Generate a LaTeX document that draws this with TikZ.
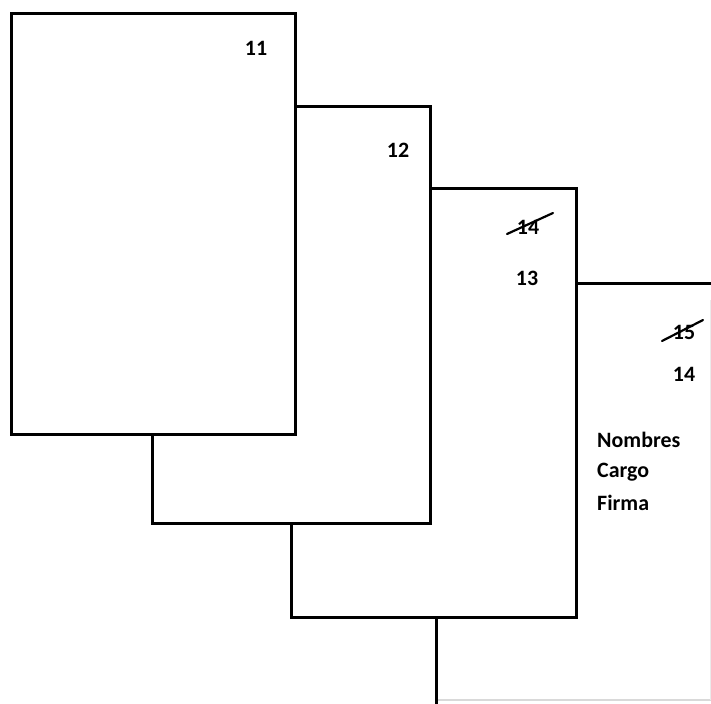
\documentclass[tikz,border=0pt]{standalone}
\usepackage{fontspec}
\setmainfont{Carlito}
\begin{document}
\begin{tikzpicture}[x=1bp,y=-1bp,
  page/.style={draw=black, line width=3bp, fill=white, line join=miter},
  edge/.style={draw=black, line width=3bp},
  faint/.style={draw=black!15, line width=1.2bp},
  lbl/.style={font=\bfseries\fontsize{22}{26}\selectfont, inner sep=0pt},
  strike/.style={draw=black, line width=2.2bp, line cap=round}]
\useasboundingbox (0,0) rectangle (711,704);
\fill[white] (0,0) rectangle (711,704);
% page 4 (back)
\fill[white] (436,283) rectangle (711,700);
\draw[faint] (438,700) -- (711,700);
\draw[draw=black!8, line width=1bp] (710,300) -- (710,700);
\draw[edge] (711,283) -- (436,283) -- (436,704);
% page 3
\draw[page] (291,188) rectangle (576,617);
% page 2
\draw[page] (152,107) rectangle (430,523);
% page 1 (front)
\draw[page] (11,14) rectangle (295,434);
% labels
\node[lbl] (p1) at (256,48) {11};
\node[lbl] (p2) at (398,150) {12};
\node[lbl] (p3old) at (528,227) {14};
\coordinate (s3a) at (507,234);
\coordinate (s3b) at (553,213);
\draw[strike] (s3a) -- (s3b);
\node[lbl] (p3) at (527,278) {13};
\node[lbl] (p4old) at (684,332) {15};
\coordinate (s4a) at (662,341);
\coordinate (s4b) at (703,320);
\draw[strike] (s4a) -- (s4b);
\node[lbl] (p4) at (684,374) {14};
\node[lbl, anchor=west] (nom) at (597,440) {Nombres};
\node[lbl, anchor=west] (car) at (597,472) {Cargo};
\node[lbl, anchor=west] (fir) at (597,503) {Firma};
\end{tikzpicture}
\end{document}
